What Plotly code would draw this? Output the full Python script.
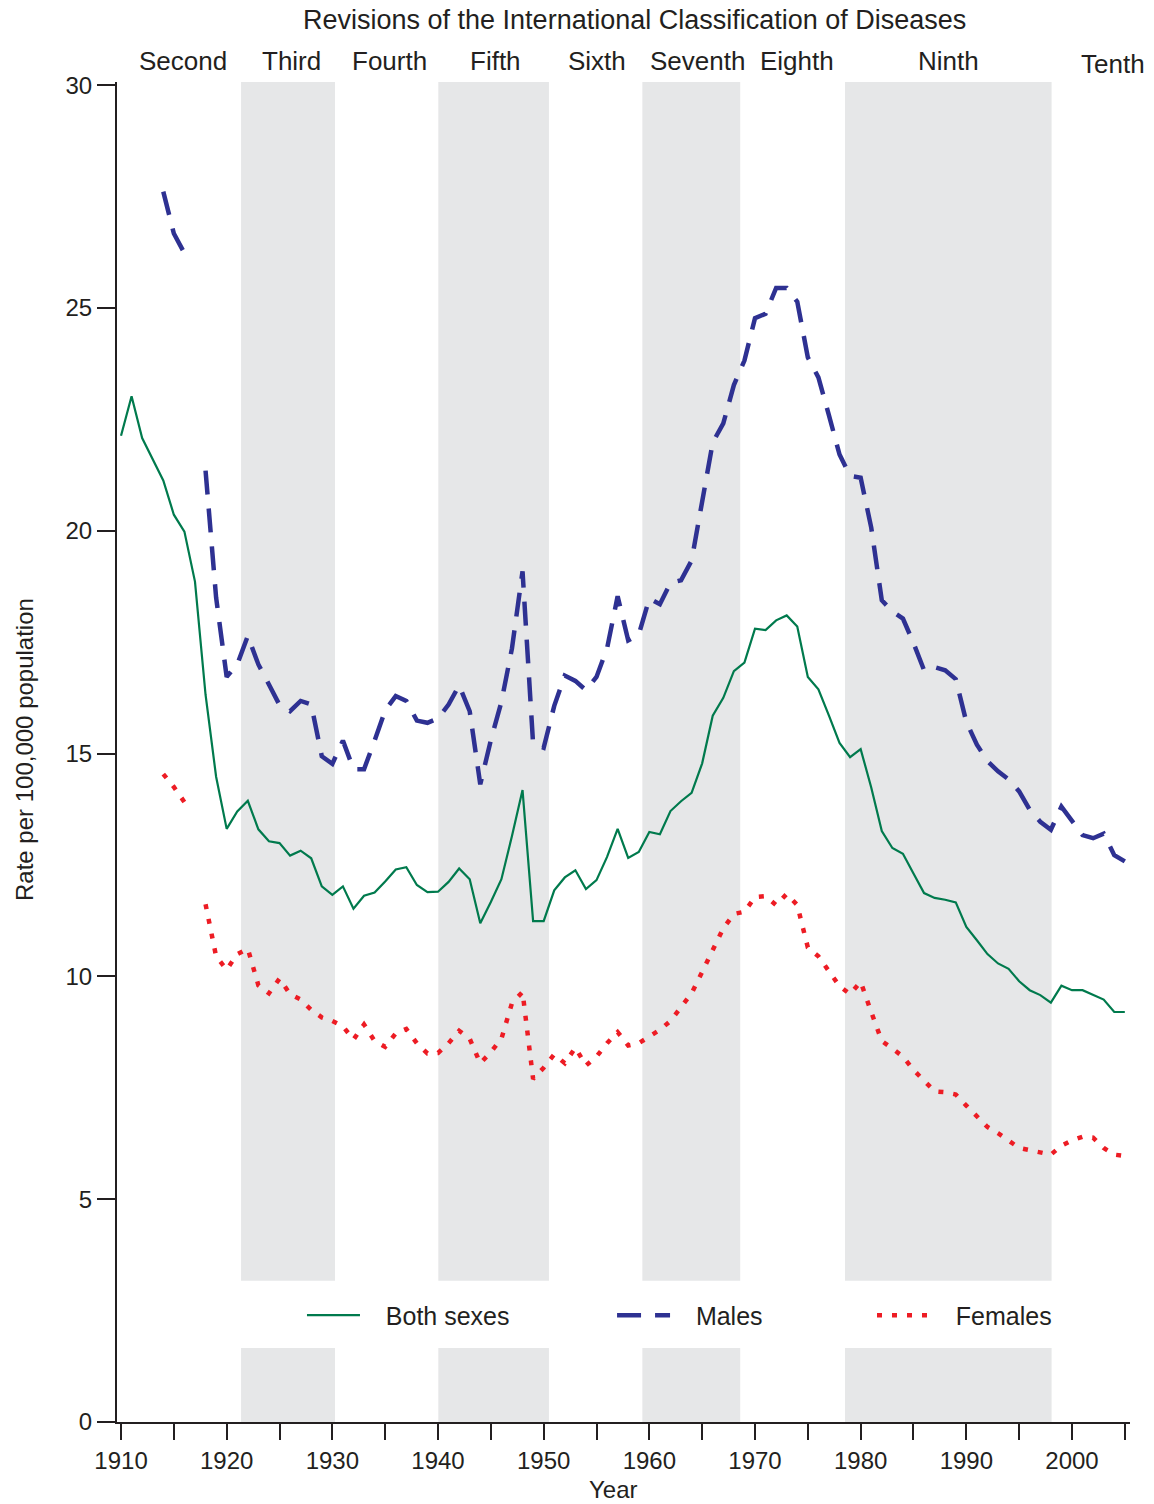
import plotly.graph_objects as go

years = list(range(1910, 2006))

both_sexes = [
    22.13, 23.02, 22.08, 21.61, 21.13, 20.36, 19.98, 18.86, 16.32, 14.48,
    13.31, 13.70, 13.94, 13.30, 13.03, 12.99, 12.71, 12.82, 12.65, 12.02,
    11.83, 12.02, 11.52, 11.81, 11.88, 12.13, 12.40, 12.45, 12.05, 11.89,
    11.90, 12.12, 12.42, 12.18, 11.19, 11.67, 12.18, 13.15, 14.18, 11.24,
    11.24, 11.93, 12.22, 12.38, 11.96, 12.16, 12.68, 13.31, 12.66, 12.79,
    13.24, 13.19, 13.71, 13.93, 14.12, 14.78, 15.85, 16.25, 16.85, 17.04,
    17.80, 17.77, 17.99, 18.10, 17.85, 16.72, 16.44, 15.85, 15.24, 14.92,
    15.10, 14.24, 13.26, 12.88, 12.75, 12.31, 11.87, 11.76, 11.72, 11.66,
    11.11, 10.81, 10.50, 10.29, 10.17, 9.89, 9.69, 9.58, 9.41, 9.79,
    9.69, 9.69, 9.58, 9.48, 9.20, 9.20,
]

males = [
    None, None, None, None, 27.61, 26.67, 26.23, None, 21.35, 18.50,
    16.72, 17.00, 17.64, 17.00, 16.55, 16.09, 15.95, 16.18, 16.10, 14.94,
    14.77, 15.29, 14.65, 14.65, 15.29, 15.97, 16.29, 16.18, 15.74, 15.69,
    15.79, 16.10, 16.53, 15.95, 14.31, 15.30, 16.16, 17.36, 19.09, 15.22,
    15.13, 16.07, 16.75, 16.63, 16.42, 16.72, 17.36, 18.53, 17.54, 17.67,
    18.48, 18.35, 18.83, 18.89, 19.33, 20.62, 21.98, 22.41, 23.27, 23.82,
    24.77, 24.87, 25.45, 25.45, 25.14, 23.89, 23.44, 22.59, 21.71, 21.23,
    21.19, 20.07, 18.44, 18.19, 18.03, 17.48, 16.87, 16.94, 16.87, 16.67,
    15.71, 15.20, 14.83, 14.60, 14.42, 14.15, 13.74, 13.47, 13.29, 13.81,
    13.47, 13.17, 13.10, 13.20, 12.72, 12.58,
]

females = [
    None, None, None, None, 14.54, 14.25, 13.91, None, 11.62, 10.45,
    10.15, 10.50, 10.62, 9.80, 9.62, 9.95, 9.60, 9.48, 9.25, 9.08,
    9.00, 8.88, 8.58, 8.92, 8.55, 8.42, 8.72, 8.82, 8.50, 8.27,
    8.28, 8.50, 8.78, 8.60, 8.05, 8.30, 8.60, 9.40, 9.65, 7.70,
    7.95, 8.25, 8.05, 8.40, 8.00, 8.20, 8.50, 8.75, 8.45, 8.50,
    8.65, 8.80, 9.00, 9.30, 9.62, 10.10, 10.62, 11.08, 11.40, 11.45,
    11.78, 11.80, 11.60, 11.85, 11.60, 10.65, 10.45, 10.12, 9.78, 9.60,
    9.88, 9.20, 8.55, 8.38, 8.20, 7.90, 7.65, 7.42, 7.40, 7.35,
    7.10, 6.85, 6.62, 6.48, 6.30, 6.15, 6.10, 6.05, 6.00, 6.20,
    6.32, 6.40, 6.38, 6.15, 6.00, 5.97,
]

# ICD revision names and the shaded revision periods
revision_names = ["Second", "Third", "Fourth", "Fifth", "Sixth",
                  "Seventh", "Eighth", "Ninth", "Tenth"]
revision_label_years = [1915.9, 1926.1, 1935.4, 1945.4, 1955.0,
                        1964.6, 1974.0, 1988.3, 2003.9]
shaded_periods = [(1921.36, 1930.25), (1940.03, 1950.5),
                  (1959.34, 1968.6), (1978.52, 1998.07)]

x_tick_vals = list(range(1910, 2006, 5))
x_tick_text = [str(v) if v % 10 == 0 else "" for v in x_tick_vals]
y_tick_vals = [0, 5, 10, 15, 20, 25, 30]

FONT = "Liberation Sans, Arial, Helvetica, sans-serif"
INK = "#231F20"
GREEN = "#007A4D"
BLUE = "#2E3192"
RED = "#ED1C24"
BAND = "#E6E7E8"
NB = "\u00a0"

fig = go.Figure()

fig.add_trace(go.Scatter(
    x=years, y=both_sexes, mode="lines", name=NB * 3 + "Both sexes",
    line=dict(color=GREEN, width=2.2), legend="legend",
))
fig.add_trace(go.Scatter(
    x=years, y=males, mode="lines", name=NB * 3 + "Males",
    line=dict(color=BLUE, width=4.5, dash="24px,14px"), legend="legend2",
    connectgaps=False,
))
fig.add_trace(go.Scatter(
    x=years, y=females, mode="lines", name=NB * 3 + "Females",
    line=dict(color=RED, width=4.5, dash="5px,10px"), legend="legend3",
    connectgaps=False,
))

shapes = []
for (x0, x1) in shaded_periods:
    for (y0, y1) in [(0, 1.66), (3.17, 30.07)]:
        shapes.append(dict(type="rect", xref="x", yref="y", x0=x0, x1=x1,
                           y0=y0, y1=y1, fillcolor=BAND, line=dict(width=0),
                           layer="below"))

annotations = []
for name, yr in zip(revision_names, revision_label_years):
    annotations.append(dict(
        text=name, x=yr, xref="x", y=1.0154 if name != "Tenth" else 1.0131,
        yref="paper", showarrow=False, xanchor="center", yanchor="middle",
        font=dict(family=FONT, size=26, color=INK),
    ))
annotations.append(dict(
    text="Revisions of the International Classification of Diseases",
    x=0.5104, xref="paper", y=1.0459, yref="paper", showarrow=False,
    xanchor="center", yanchor="middle",
    font=dict(family=FONT, size=27, color=INK),
))
annotations.append(dict(
    text="Rate per 100,000 population", x=-0.0908, xref="paper",
    y=0.5015, yref="paper", showarrow=False, textangle=-90,
    xanchor="center", yanchor="middle",
    font=dict(family=FONT, size=24, color=INK),
))
annotations.append(dict(
    text="Year", x=0.4906, xref="paper", y=-0.0505, yref="paper",
    showarrow=False, xanchor="center", yanchor="middle",
    font=dict(family=FONT, size=24, color=INK),
))

legend_common = dict(
    orientation="h", yanchor="middle", xanchor="left", y=0.0795,
    bgcolor="rgba(0,0,0,0)", borderwidth=0, itemwidth=53,
    font=dict(family=FONT, size=25, color=INK),
)

fig.update_layout(
    width=1154, height=1504,
    margin=dict(l=117, r=24, t=82, b=82),
    paper_bgcolor="white", plot_bgcolor="white",
    font=dict(family=FONT, size=24, color=INK),
    shapes=shapes, annotations=annotations,
    showlegend=True,
    legend=dict(x=0.1826, **legend_common),
    legend2=dict(x=0.4887, **legend_common),
    legend3=dict(x=0.7453, **legend_common),
    xaxis=dict(
        range=[1909.62, 2005.49], tickmode="array",
        tickvals=x_tick_vals, ticktext=x_tick_text,
        ticks="outside", ticklen=16, tickwidth=1.5, tickcolor=INK,
        showline=True, linecolor=INK, linewidth=2.2,
        showgrid=False, zeroline=False,
        tickfont=dict(family=FONT, size=24, color=INK),
    ),
    yaxis=dict(
        range=[0, 30.07], tickmode="array", tickvals=y_tick_vals,
        ticks="outside", ticklen=18, tickwidth=1.5, tickcolor=INK,
        showline=True, linecolor=INK, linewidth=2.2,
        showgrid=False, zeroline=False,
        tickfont=dict(family=FONT, size=24, color=INK),
    ),
)

fig.write_html(
    "out.html",
    config={"displayModeBar": False},
    post_script="document.body.style.margin='0';"
                "document.body.style.overflow='hidden';",
)
